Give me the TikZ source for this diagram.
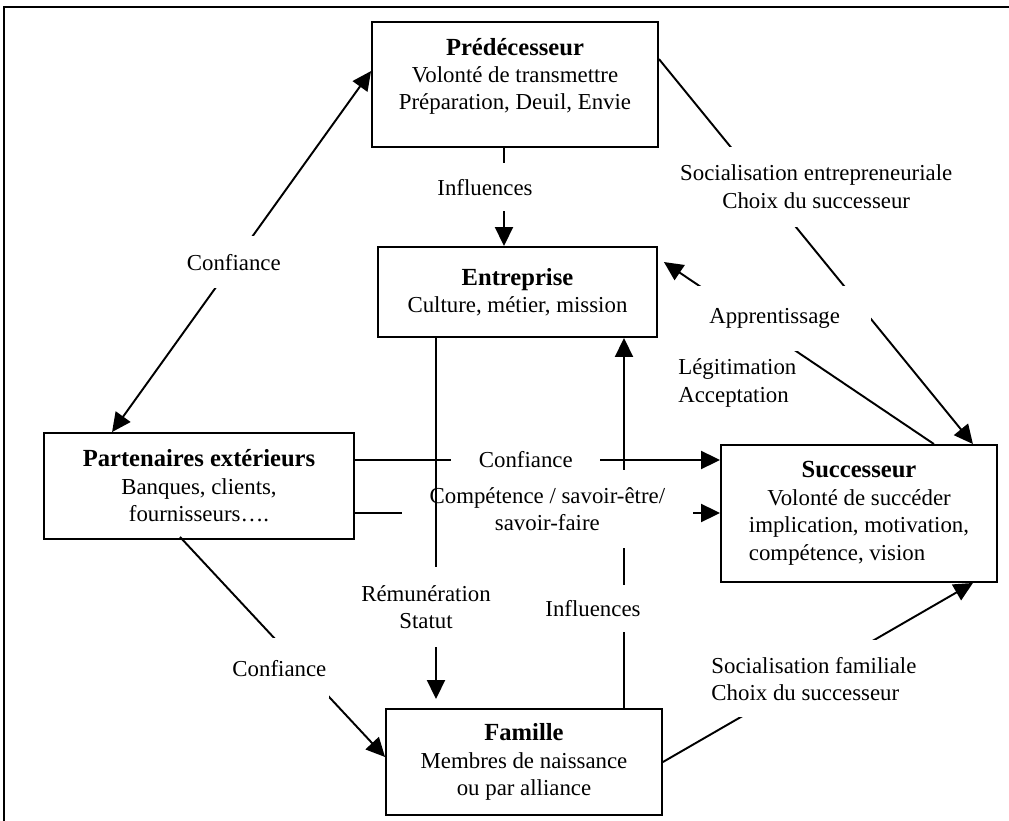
\documentclass[tikz,border=0pt]{standalone}
\usepackage{fontspec}
\setmainfont{Liberation Serif}
\usetikzlibrary{arrows.meta,calc}

\newcommand\labfont{\fontsize{13pt}{15.6pt}\selectfont}
\newcommand\titfont{\fontsize{14pt}{15.6pt}\selectfont\bfseries}

\begin{document}
\begin{tikzpicture}[x=0.02cm, y=-0.02cm, font=\labfont,
    box/.style={draw, line width=1.1pt, align=center, inner sep=0pt},
    lbl/.style={fill=white, inner sep=0pt, align=center},
    link/.style={line width=1.1pt},
    >={Triangle[length=0.38cm, width=0.36cm]}]

    % Page size and frame
    \useasboundingbox (0,0) rectangle (1009,821);
    \draw[line width=1.4pt] (4,7) rectangle (1020,830);

    % The five actors
    \node[box, minimum width=5.72cm, minimum height=2.5cm] (pred) at (515,84.5)
        {{\titfont Prédécesseur}\\Volonté de transmettre\\Préparation, Deuil, Envie\rule[-0.42cm]{0pt}{0pt}};
    \node[box, minimum width=5.58cm, minimum height=1.8cm] (entr) at (517.5,292)
        {{\titfont Entreprise}\\Culture, métier, mission};
    \node[box, minimum width=6.2cm, minimum height=2.12cm] (part) at (199,486)
        {{\titfont Partenaires extérieurs}\\Banques, clients,\\fournisseurs….};
    \node[box, minimum width=5.52cm, minimum height=2.74cm] (succ) at (859,513.5)
        {\begin{tabular}{@{}l@{}}
            \multicolumn{1}{@{}c@{}}{\titfont Successeur}\\
            \multicolumn{1}{@{}c@{}}{Volonté de succéder}\\
            implication, motivation,\\
            compétence, vision
        \end{tabular}};
    \node[box, minimum width=5.52cm, minimum height=2.12cm] (fam) at (524,762)
        {{\titfont Famille}\\Membres de naissance\\ou par alliance};

    % Links from the predecessor
    \draw[link, <->] ($(pred.north west)+(0,50)$) -- node[lbl, pos=0.53, minimum width=2cm, minimum height=1.04cm] (conf1) {Confiance} ($(part.north west)+(69,0)$);
    \draw[link, ->] ($(pred.south)+(-11,0)$) -- node[lbl, pos=0.4, xshift=-0.38cm, minimum width=2cm, minimum height=0.96cm] (infl1) {Influences} ($(entr.north)+(-13.5,0)$);

    % Family towards the firm
    \draw[link, ->] ($(fam.north)+(100,0)$) -- node[lbl, pos=0.27, xshift=-0.62cm, minimum width=2cm, minimum height=0.94cm] (infl2) {Influences} ($(entr.south)+(106.5,0)$);

    % Partners towards the successor
    \draw[link, ->] ($(part.east)+(0,-26)$) -- node[lbl, pos=0.468, minimum width=2.98cm, minimum height=0.8cm] (conf2) {Confiance} ($(succ.west)+(0,-53.5)$);
    \draw[link, ->] ($(part.east)+(0,27)$) -- node[lbl, pos=0.527, yshift=0.08cm, minimum width=5.82cm, minimum height=1.56cm] (comp) {Compétence / savoir-être/\\savoir-faire} ($(succ.west)+(0,-0.5)$);

    % Firm towards the family
    \draw[link, ->, shorten >=0.18cm] ($(entr.south)+(-81.5,0)$) -- node[lbl, pos=0.728, xshift=-0.2cm, minimum width=2.8cm, minimum height=1.6cm] (remu) {Rémunération\\Statut} ($(fam.north)+(-88,0)$);

    % Partners towards the family
    \draw[link, ->] ($(part.south)+(-19,-3)$) -- node[lbl, pos=0.597, xshift=-0.46cm, minimum width=2cm, minimum height=1.2cm] (conf3) {Confiance} ($(fam.west)+(0,-5)$);

    % Socialisation of the successor
    \draw[link, ->] (fam.east) -- node[lbl, pos=0.487, yshift=-0.08cm, minimum width=4.2cm, minimum height=1.54cm, align=left] (socf) {Socialisation familiale\\Choix du successeur} ($(succ.south east)+(-25,0)$);
    \draw[link, ->] ($(pred.north east)+(0,38)$) -- node[lbl, pos=0.332, xshift=1.06cm, minimum width=5.6cm, minimum height=1.6cm] (soce) {Socialisation entrepreneuriale\\Choix du successeur} ($(succ.north east)+(-25,0)$);

    % Successor towards the firm
    \draw[link, ->] ($(succ.north east)+(-64,0)$) -- node[lbl, pos=0.69, xshift=0.54cm, minimum width=3.84cm, minimum height=1.3cm] (appr) {Apprentissage} ($(entr.north east)+(6,16)$);
    \node[anchor=west, align=left, inner sep=0pt] (legit) at (678,383) {Légitimation\\Acceptation};
\end{tikzpicture}
\end{document}
